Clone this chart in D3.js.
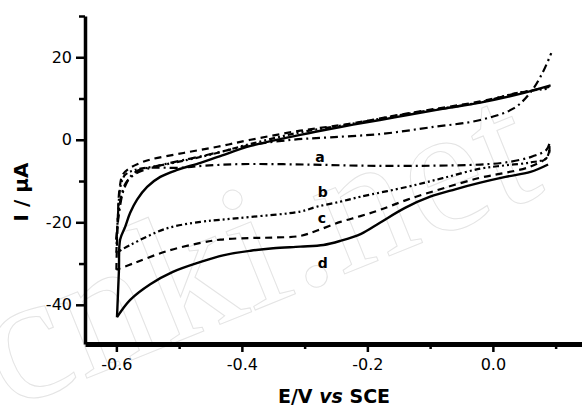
<!DOCTYPE html>
<html>
<head>
<meta charset="utf-8">
<script src="https://cdn.jsdelivr.net/npm/d3@7"></script>
<style>
  html, body { margin: 0; padding: 0; background: #fff; }
  svg { display: block; }
</style>
</head>
<body>
<svg width="582" height="409"></svg>
<script>
// ticks
const xMajor = [-0.6, -0.4, -0.2, 0.0];
const xMinor = [-0.5, -0.3, -0.1, 0.1];
const yMajor = [20, 0, -20, -40];
const yMinor = [30, 10, -10, -30];

// curve d (solid) : [E, I]
const dLower = [[0.088,-6.0],[0.06,-7.8],[0.02,-9.0],[-0.02,-10.4],[-0.06,-12.0],[-0.10,-13.8],[-0.14,-16.5],[-0.18,-20.1],[-0.21,-22.8],[-0.243,-24.5],[-0.27,-25.5],[-0.307,-25.9],[-0.35,-26.3],[-0.386,-26.9],[-0.43,-28.0],[-0.466,-29.6],[-0.51,-32.0],[-0.546,-35.0],[-0.578,-38.8],[-0.599,-43.0]];
const dUpper = [[-0.599,-43.0],[-0.596,-32.0],[-0.594,-24.2],[-0.586,-21.1],[-0.578,-17.7],[-0.567,-14.5],[-0.551,-11.4],[-0.53,-9.0],[-0.503,-7.3],[-0.466,-5.6],[-0.437,-4.1],[-0.386,-1.5],[-0.307,1.2],[-0.243,3.1],[-0.18,4.8],[-0.136,6.0],[-0.08,7.5],[-0.02,9.0],[0.04,11.0],[0.092,13.2]];

// curve c (dash)
const cLower = [[0.09,-1.5],[0.088,-4.0],[0.06,-6.5],[0.02,-8.0],[-0.02,-9.2],[-0.08,-11.8],[-0.136,-14.5],[-0.18,-17.0],[-0.211,-18.5],[-0.243,-19.9],[-0.28,-22.0],[-0.307,-23.3],[-0.35,-23.7],[-0.386,-23.8],[-0.434,-24.2],[-0.466,-25.0],[-0.52,-27.0],[-0.57,-29.8],[-0.6,-31.5]];
const cUpper = [[-0.6,-31.5],[-0.598,-20],[-0.595,-12],[-0.59,-8.5],[-0.58,-7.0],[-0.565,-5.8],[-0.546,-4.8],[-0.493,-3.2],[-0.439,-1.7],[-0.386,0.0],[-0.307,2.2],[-0.227,3.9],[-0.136,6.4],[-0.02,9.3],[0.04,11.3],[0.09,12.8]];

// curve b (dash dot dot)
const bLower = [[0.09,-2.5],[0.085,-4.5],[0.06,-5.5],[0.02,-6.2],[-0.02,-7.0],[-0.08,-9.3],[-0.136,-11.4],[-0.211,-13.8],[-0.243,-15.0],[-0.28,-16.2],[-0.307,-17.4],[-0.386,-18.7],[-0.434,-19.4],[-0.466,-19.9],[-0.52,-21.5],[-0.578,-25.5],[-0.6,-27.4]];
const bUpper = [[-0.6,-27.4],[-0.597,-17],[-0.593,-11],[-0.586,-8.5],[-0.57,-7.3],[-0.54,-6.5],[-0.5,-5.3],[-0.45,-3.6],[-0.386,-1.0],[-0.307,1.8],[-0.227,3.8],[-0.136,6.3],[-0.02,9.1],[0.04,11.4],[0.09,12.4]];

// curve a (dash dot)
const aLower = [[0.09,-1.0],[0.085,-2.5],[0.06,-4.2],[0.02,-5.5],[-0.02,-6.0],[-0.1,-6.3],[-0.2,-6.3],[-0.3,-6.0],[-0.4,-5.9],[-0.46,-6.3],[-0.5,-6.8],[-0.557,-7.0],[-0.575,-8.5],[-0.588,-12],[-0.596,-18],[-0.6,-24.2]];
const aUpper = [[-0.6,-24.2],[-0.594,-15],[-0.585,-10.5],[-0.57,-8.3],[-0.55,-7.0],[-0.52,-5.8],[-0.48,-4.5],[-0.43,-2.8],[-0.386,-1.3],[-0.32,0.0],[-0.259,0.6],[-0.179,1.4],[-0.1,3.0],[-0.02,4.8],[0.033,7.6],[0.06,11.5],[0.08,16.5],[0.093,21]];

const curveLabels = ["a", "b", "c", "d"];
const labelPos = [[-0.283, -5.3], [-0.279, -13.8], [-0.279, -20.2], [-0.279, -31.2]];

const svg = d3.select("svg");

// 워터마크
svg.append("text")
  .attr("transform", "translate(8,410) rotate(-22)")
  .attr("font-family", "Liberation Serif")
  .attr("font-size", 182)
  .attr("fill", "none")
  .attr("stroke", "#e4e4e4")
  .attr("stroke-width", 1)
  .text("cnki.net");

const x = d3.scaleLinear().domain([-0.65, 0.15]).range([85, 587]);
const y = d3.scaleLinear().domain([-49.5, 30]).range([344, 16]);

const line = d3.line()
  .x((d) => x(d[0]))
  .y((d) => y(d[1]))
  .curve(d3.curveCatmullRom.alpha(0.5));

const series = [
  { parts: [aLower, aUpper], dash: "8,4,2,4", w: 2.2 },
  { parts: [bLower, bUpper], dash: "6,3,2,3,2,3", w: 2.2 },
  { parts: [cLower, cUpper], dash: "7,5", w: 2.2 },
  { parts: [dLower, dUpper], dash: null, w: 2.4 },
];

series.forEach((s) => {
  s.parts.forEach((p) => {
    svg.append("path")
      .datum(p)
      .attr("d", line)
      .attr("fill", "none")
      .attr("stroke", "#000")
      .attr("stroke-width", s.w)
      .attr("stroke-dasharray", s.dash);
  });
});

// 곡선 라벨
svg.selectAll(".clabel")
  .data(curveLabels)
  .enter()
  .append("text")
  .attr("class", "clabel")
  .attr("x", (d, i) => x(labelPos[i][0]))
  .attr("y", (d, i) => y(labelPos[i][1]))
  .attr("font-family", "DejaVu Sans")
  .attr("font-weight", "bold")
  .attr("font-size", 14)
  .text((d) => d);

// axes
const fmtX = (d) => d.toFixed(1);
const gx = svg.append("g").attr("transform", "translate(0,344)")
  .call(d3.axisBottom(x).tickValues(xMajor).tickFormat(fmtX).tickSize(8).tickSizeOuter(0).tickPadding(7));
const gxm = svg.append("g").attr("transform", "translate(0,344)")
  .call(d3.axisBottom(x).tickValues(xMinor).tickFormat("").tickSize(5).tickSizeOuter(0));
const gy = svg.append("g").attr("transform", "translate(85,0)")
  .call(d3.axisLeft(y).tickValues(yMajor).tickFormat((d) => String(d)).tickSize(9).tickSizeOuter(0).tickPadding(4));
const gym = svg.append("g").attr("transform", "translate(85,0)")
  .call(d3.axisLeft(y).tickValues(yMinor).tickFormat("").tickSize(6).tickSizeOuter(0));

[gx, gxm, gy, gym].forEach((g) => {
  g.selectAll("line").attr("stroke", "#000").attr("stroke-width", 2.5);
  g.selectAll("text").attr("fill", "#000").attr("font-family", "DejaVu Sans").attr("font-size", 16);
});
gx.select(".domain").attr("stroke", "#000").attr("stroke-width", 5);
gxm.select(".domain").remove();
gy.select(".domain").attr("stroke", "#000").attr("stroke-width", 3.5);
gym.select(".domain").remove();

// axis titles
const xt = svg.append("text")
  .attr("x", 334)
  .attr("y", 403)
  .attr("text-anchor", "middle")
  .attr("font-family", "DejaVu Sans")
  .attr("font-weight", "bold")
  .attr("font-size", 19);
xt.append("tspan").text("E/V ");
xt.append("tspan").attr("font-style", "italic").text("vs");
xt.append("tspan").text(" SCE");

svg.append("text")
  .attr("transform", "translate(28,192) rotate(-90)")
  .attr("text-anchor", "middle")
  .attr("font-family", "DejaVu Sans")
  .attr("font-weight", "bold")
  .attr("font-size", 20)
  .text("I / μA");
</script>
</body>
</html>
